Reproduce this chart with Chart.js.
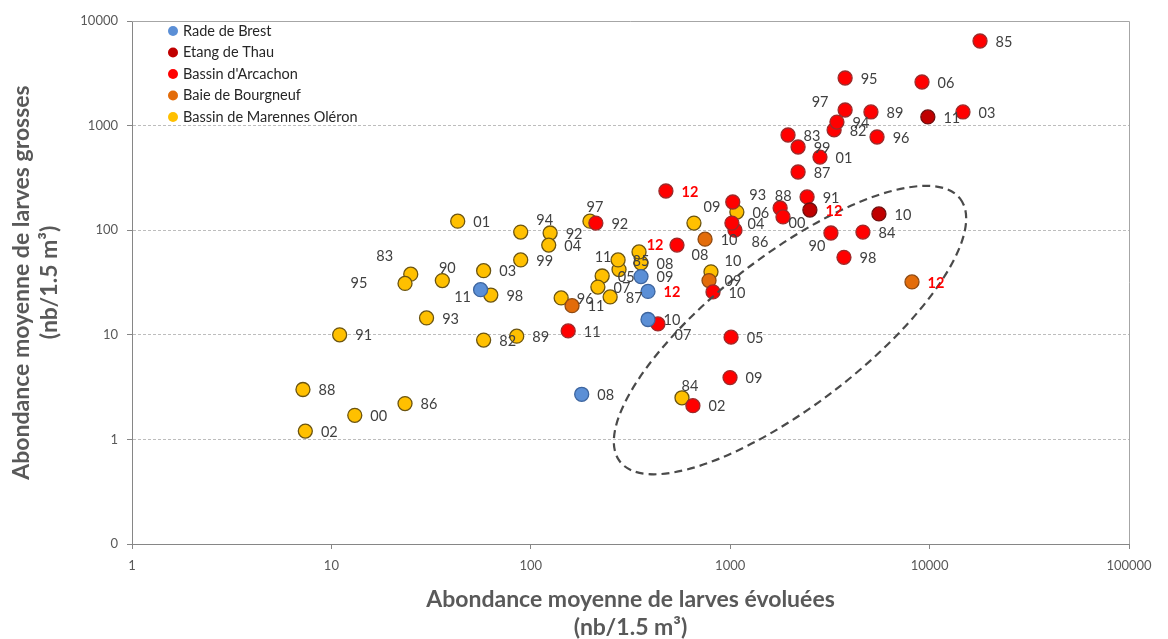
<!DOCTYPE html>
<html lang="fr">
<head>
<meta charset="utf-8">
<title>Abondance des larves</title>
<script src="https://cdn.jsdelivr.net/npm/chart.js@4.4.0/dist/chart.umd.min.js"></script>
<style>
  html, body { margin: 0; padding: 0; background: #ffffff; }
  canvas { display: block; }
</style>
</head>
<body>
<canvas id="larvesChart" width="1168" height="639"></canvas>
<script>
// Rade de Brest
const brestAnnees = ['08', '09', '10', '11', '12'];
const brestEvoluees = [180, 357, 387, 56, 387];
const brestGrosses = [2.7, 36, 14, 27, 26];

// Etang de Thau
const thauAnnees = ['10', '11', '12'];
const thauEvoluees = [5570, 9800, 2510];
const thauGrosses = [143, 1210, 156];

// Bassin d'Arcachon (1982 -> 2012)
const arcachonAnnees = ['82', '83', '84', '85', '86', '87', '88', '89', '90', '91', '92', '93', '94', '95', '96', '97', '98', '99',
  '00', '01', '02', '03', '04', '05', '06', '07', '08', '09', '10', '11', '12'];
const arcachonEvoluees = [3320, 1950, 4630, 17900, 1057, 2190, 1780, 5080, 3200, 2430, 212, 1030, 3430, 3770, 5450, 3770, 3720, 2190,
  1840, 2820, 650, 14700, 1020, 1010, 9160, 434, 541, 998, 820, 154, 476];
const arcachonGrosses = [910, 813, 96, 6440, 100, 360, 163, 1350, 94, 208, 117, 186, 1080, 2850, 778, 1410, 55, 624,
  134, 500, 2.1, 1350, 117, 9.5, 2610, 12.7, 72, 3.9, 25.7, 10.9, 237];

// Baie de Bourgneuf
const bourgneufAnnees = ['09', '10', '11', '12'];
const bourgneufEvoluees = [783, 748, 161, 8160];
const bourgneufGrosses = [33, 82, 19, 32];

// Bassin de Marennes Oléron (1982 -> 2012)
const marennesAnnees = ['82', '83', '84', '85', '86', '87', '88', '89', '90', '91', '92', '93', '94', '95', '96', '97', '98', '99',
  '00', '01', '02', '03', '04', '05', '06', '07', '08', '09', '10', '11', '12'];
const marennesEvoluees = [58, 25, 573, 277, 23.4, 250, 7.2, 85, 36, 11, 125, 30, 89, 23.4, 142, 198, 63, 89,
  13.1, 43, 7.4, 58, 123, 228, 1080, 217, 357, 658, 801, 274, 349];
const marennesGrosses = [8.9, 38, 2.5, 42, 2.2, 23, 3.0, 9.7, 33, 10, 94, 14.5, 96, 31, 22.5, 122, 24, 52,
  1.7, 122, 1.2, 41, 72, 36.5, 149, 28.6, 48.6, 117, 40, 52, 62];

// axis ticks
const xTicks = [1, 10, 100, 1000, 10000, 100000];
const yTicks = [0.1, 1, 10, 100, 1000, 10000];

// zone entourée en pointillés (centre en unités des axes)
const zoneCentre = { x: 1995, y: 11.1 };

// where each year label sits relative to its point (default: right)
const labelDefaut = [24, 1];
const labelDecalage = {
  brest: { '11': [-18, 8] },
  thau: {},
  arcachon: { '86': [25, 12], '88': [3, -12], '90': [-14, 13], '93': [25, -7], '97': [-25, -8], '00': [14, 6], '07': [25, 11], '08': [23, 10] },
  bourgneuf: {},
  marennes: { '83': [-26, -18], '84': [8, -11], '85': [22, -8], '90': [5, -12], '94': [24, -12], '95': [-46, 0], '97': [5, -14],
    '09': [18, -16], '10': [22, -10], '11': [-15, -3], '12': [16, -7] }
};

const FONT = "Lato, 'Open Sans', sans-serif";

function serie(key, label, annees, xs, ys, fill, stroke) {
  return {
    key,
    label,
    annees,
    data: xs.map((x, i) => ({ x, y: ys[i] })),
    backgroundColor: fill,
    borderColor: stroke,
    borderWidth: 1.3,
    pointRadius: 7,
    pointHoverRadius: 7
  };
}

const datasets = [
  serie('brest', 'Rade de Brest', brestAnnees, brestEvoluees, brestGrosses, '#5b8fd6', '#3d659f'),
  serie('thau', 'Etang de Thau', thauAnnees, thauEvoluees, thauGrosses, '#c00000', '#6e1010'),
  serie('arcachon', "Bassin d'Arcachon", arcachonAnnees, arcachonEvoluees, arcachonGrosses, '#ff0000', '#9c2a2a'),
  serie('bourgneuf', 'Baie de Bourgneuf', bourgneufAnnees, bourgneufEvoluees, bourgneufGrosses, '#e36c0a', '#8f4a12'),
  serie('marennes', 'Bassin de Marennes Oléron', marennesAnnees, marennesEvoluees, marennesGrosses, '#ffc000', '#6b5410')
];

// top and right edges of the plot area
const cadre = {
  id: 'cadre',
  beforeDatasetsDraw(chart) {
    const { ctx, chartArea: a } = chart;
    ctx.save();
    ctx.strokeStyle = '#a6a6a6';
    ctx.lineWidth = 1;
    ctx.beginPath();
    ctx.moveTo(a.left, a.top + 0.5);
    ctx.lineTo(a.right + 0.5, a.top + 0.5);
    ctx.lineTo(a.right + 0.5, a.bottom);
    ctx.stroke();
    ctx.restore();
  }
};

// dashed ellipse around the 2012 group
const ellipse = {
  id: 'ellipse',
  afterDatasetsDraw(chart) {
    const { ctx, scales } = chart;
    const cx = scales.x.getPixelForValue(zoneCentre.x);
    const cy = scales.y.getPixelForValue(zoneCentre.y);
    ctx.save();
    ctx.strokeStyle = '#4a4a4a';
    ctx.lineWidth = 2.2;
    ctx.setLineDash([8, 5]);
    ctx.beginPath();
    ctx.ellipse(cx, cy, 215, 75, -37.7 * Math.PI / 180, 0, Math.PI * 2);
    ctx.stroke();
    ctx.restore();
  }
};

// year labels next to each point, 2012 in red bold
const etiquettes = {
  id: 'etiquettes',
  afterDatasetsDraw(chart) {
    const { ctx } = chart;
    ctx.save();
    ctx.textAlign = 'center';
    ctx.textBaseline = 'middle';
    chart.data.datasets.forEach((ds, d) => {
      const meta = chart.getDatasetMeta(d);
      const decal = labelDecalage[ds.key] || {};
      meta.data.forEach((pt, i) => {
        const an = ds.annees[i];
        const [dx, dy] = decal[an] || labelDefaut;
        if (an === '12') {
          ctx.font = 'bold 14.5px ' + FONT;
          ctx.fillStyle = '#ff0000';
        } else {
          ctx.font = '14.5px ' + FONT;
          ctx.fillStyle = '#404040';
        }
        ctx.fillText(an, pt.x + dx, pt.y + dy);
      });
    });
    ctx.restore();
  }
};

// legend drawn inside the plot, top left
const legende = {
  id: 'legende',
  afterDraw(chart) {
    const { ctx } = chart;
    ctx.save();
    ctx.font = '14.5px ' + FONT;
    ctx.textBaseline = 'middle';
    ctx.textAlign = 'left';
    chart.data.datasets.forEach((ds, i) => {
      const y = 31 + i * 21.5;
      ctx.fillStyle = ds.backgroundColor;
      ctx.beginPath();
      ctx.arc(173, y, 5, 0, Math.PI * 2);
      ctx.fill();
      ctx.fillStyle = '#262626';
      ctx.fillText(ds.label, 183, y);
    });
    ctx.restore();
  }
};

const titreFont = { family: FONT, size: 23, weight: 'bold', lineHeight: 28 / 23 };
const tickFont = { family: FONT, size: 13 };

new Chart(document.getElementById('larvesChart'), {
  type: 'scatter',
  data: { datasets },
  options: {
    responsive: false,
    animation: false,
    layout: { padding: { top: 21, right: 39, left: 0, bottom: 0 } },
    plugins: {
      legend: { display: false },
      tooltip: { enabled: false }
    },
    scales: {
      x: {
        type: 'logarithmic',
        min: 1,
        max: 100000,
        afterBuildTicks: scale => { scale.ticks = xTicks.map(value => ({ value })); },
        afterFit: scale => { scale.height = 95; },
        ticks: {
          color: '#595959',
          font: tickFont,
          padding: 9,
          maxRotation: 0,
          autoSkip: false,
          callback: v => String(v)
        },
        grid: {
          drawOnChartArea: false,
          drawTicks: true,
          tickLength: 5,
          tickColor: '#868686'
        },
        border: { color: '#868686', width: 1 },
        title: {
          display: true,
          text: ['Abondance moyenne de larves évoluées', '(nb/1.5 m³)'],
          color: '#595959',
          font: titreFont,
          padding: { top: 0, bottom: -3 }
        }
      },
      y: {
        type: 'logarithmic',
        min: 0.1,
        max: 10000,
        afterBuildTicks: scale => { scale.ticks = yTicks.map(value => ({ value })); },
        afterFit: scale => { scale.width = 132; },
        ticks: {
          color: '#595959',
          font: tickFont,
          padding: 9,
          autoSkip: false,
          callback: v => (v === 0.1 ? '0' : String(v))
        },
        grid: {
          color: ctx => (ctx.tick && ctx.tick.value > 0.5 && ctx.tick.value < 5000 ? '#bdbdbd' : 'rgba(0,0,0,0)'),
          lineWidth: 1,
          tickLength: 5,
          tickColor: '#868686'
        },
        border: { color: '#868686', width: 1, dash: [3, 2] },
        title: {
          display: true,
          text: ['Abondance moyenne de larves grosses', '(nb/1.5 m³)'],
          color: '#595959',
          font: titreFont,
          padding: { top: 8, bottom: 0 }
        }
      }
    }
  },
  plugins: [cadre, ellipse, etiquettes, legende]
});
</script>
</body>
</html>
